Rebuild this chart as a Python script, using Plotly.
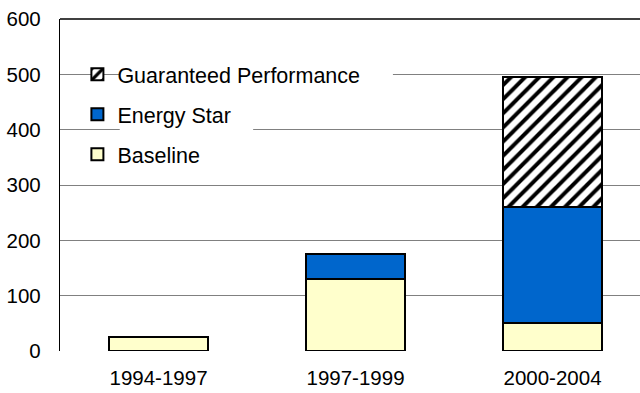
import plotly.graph_objects as go

periods = ["1994-1997", "1997-1999", "2000-2004"]
baseline = [25, 130, 50]
energy_star = [0, 45, 210]
guaranteed = [0, 0, 235]
y_ticks = [0, 100, 200, 300, 400, 500, 600]

FONT = "Liberation Sans, Arial, sans-serif"
edge = dict(color="black", width=2)

fig = go.Figure()
fig.add_trace(go.Bar(
    name="Baseline", x=periods, y=baseline,
    legendgroup="baseline", legendrank=3,
    marker=dict(color="#FFFFCC", line=edge),
))
fig.add_trace(go.Bar(
    name="Energy Star", x=periods, y=energy_star,
    legendgroup="energy", legendrank=2,
    marker=dict(color="#0066CC", line=edge),
))
fig.add_trace(go.Bar(
    name="Guaranteed Performance", x=periods, y=guaranteed,
    legendgroup="guaranteed", legendrank=1,
    marker=dict(
        color="white", line=edge,
        pattern=dict(shape="/", fgcolor="black", bgcolor="white",
                     size=10, solidity=0.4, fillmode="replace"),
    ),
))

# white strips behind the legend labels, covering the gridlines there
label_masks = [
    dict(x0=0.102, x1=0.574, y0=490, y1=510),
    dict(x0=0.103, x1=0.333, y0=390, y1=410),
]
shapes = [
    dict(type="rect", xref="paper", yref="y", layer="above",
         fillcolor="white", line=dict(width=0), **m)
    for m in label_masks
]
# black frame edge along the top of the plot area
shapes.append(dict(type="line", xref="paper", yref="paper", layer="above",
                   x0=0, x1=1, y0=1, y1=1, line=dict(color="black", width=1.3)))

fig.update_layout(
    width=640, height=393,
    margin=dict(l=60, r=0, t=19, b=42),
    paper_bgcolor="white", plot_bgcolor="white",
    barmode="stack", bargap=0.5,
    font=dict(family=FONT, size=20, color="black"),
    showlegend=True,
    legend=dict(
        x=0.03, y=0.895, xanchor="left", yanchor="top",
        bgcolor="rgba(0,0,0,0)", traceorder="grouped",
        tracegroupgap=9, font=dict(size=21.5),
    ),
    shapes=shapes,
    xaxis=dict(
        range=[-0.5, 2.444], showgrid=False, zeroline=False,
        showline=False, ticks="", tickfont=dict(size=20.5),
        ticklabelstandoff=12,
    ),
    yaxis=dict(
        range=[0, 600], tickvals=y_ticks, showgrid=True,
        gridcolor="#808080", gridwidth=1.3, zeroline=False,
        showline=True, linecolor="black", linewidth=1.3,
        ticks="", tickfont=dict(size=20.5), ticklabelstandoff=14,
    ),
)

fig.write_html("out.html")
